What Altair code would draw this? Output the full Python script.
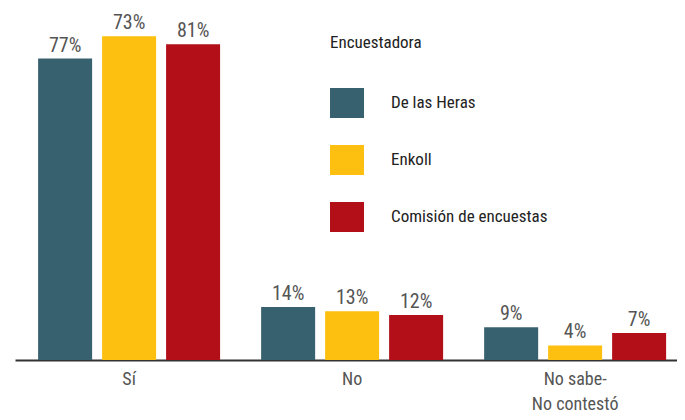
import altair as alt
import pandas as pd

categories = ["Sí", "No", "No sabe-No contestó"]
pollsters = ["De las Heras", "Enkoll", "Comisión de encuestas"]
colors = ["#37616f", "#fdc010", "#b20f18"]

# printed labels (percent)
heras_label = [77, 14, 9]
enkoll_label = [73, 13, 4]
comision_label = [81, 12, 7]

# bar heights as drawn in the picture (percent units)
heras_height = [78.4, 13.8, 8.5]
enkoll_height = [84.2, 12.7, 3.8]
comision_height = [82.1, 11.7, 7.0]

rows = []
for name, labs, hts in [
    (pollsters[0], heras_label, heras_height),
    (pollsters[1], enkoll_label, enkoll_height),
    (pollsters[2], comision_label, comision_height),
]:
    for cat, lab, h in zip(categories, labs, hts):
        rows.append({"categoria": cat, "encuestadora": name, "altura": h, "etiqueta": f"{lab}%"})
df = pd.DataFrame(rows)

FONT = "'Liberation Sans Narrow', 'Roboto Condensed', Roboto, sans-serif"

x_enc = alt.X(
    "categoria:N",
    sort=categories,
    title=None,
    scale=alt.Scale(paddingInner=0.184, paddingOuter=0.0762, align=0.68),
    axis=alt.Axis(
        labelAngle=0,
        ticks=False,
        domainColor="#333333",
        domainWidth=2,
        labelColor="#555555",
        labelFontSize=18,
        labelFont=FONT,
        labelPadding=10,
        labelLineHeight=25,
        labelExpr="datum.value == 'No sabe-No contestó' ? ['No sabe-', 'No contestó'] : datum.label",
    ),
)
xoff = alt.XOffset(
    "encuestadora:N",
    sort=pollsters,
    scale=alt.Scale(paddingInner=0.156, paddingOuter=0),
)
y_enc = alt.Y("altura:Q", axis=None, scale=alt.Scale(domain=[0, 90], nice=False))

base = alt.Chart(df)

bars = base.mark_bar().encode(
    x=x_enc,
    xOffset=xoff,
    y=y_enc,
    color=alt.Color(
        "encuestadora:N",
        sort=pollsters,
        scale=alt.Scale(domain=pollsters, range=colors),
        legend=alt.Legend(
            title="Encuestadora",
            orient="none",
            legendX=315,
            legendY=21,
            symbolType="M-1,-0.88H1V0.88H-1Z",
            symbolSize=1156,
            symbolStrokeWidth=0,
            symbolOpacity=1,
            labelOffset=27,
            labelLimit=0,
            labelFontSize=17,
            labelFont=FONT,
            labelColor="#222222",
            titleFontSize=17,
            titleFont=FONT,
            titleFontWeight="normal",
            titleColor="#222222",
            titlePadding=34,
            rowPadding=25,
        ),
    ),
)

text = base.mark_text(
    baseline="bottom", dy=-3, fontSize=20, font=FONT, color="#555555"
).encode(
    x=alt.X("categoria:N", sort=categories),
    xOffset=alt.XOffset("encuestadora:N", sort=pollsters),
    y=alt.Y("altura:Q"),
    text="etiqueta:N",
)

chart = (
    alt.layer(bars, text)
    .properties(width=662, height=346, padding={"left": 7, "top": 5, "right": 0, "bottom": 0})
    .configure_view(stroke=None)
)

chart.save("out.html", embed_options={"renderer": "svg", "actions": False})
